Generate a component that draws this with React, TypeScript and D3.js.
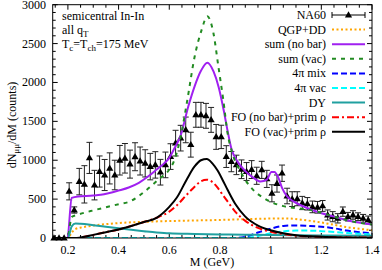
import React from 'react';
import * as d3 from 'd3';

const W = 382;
const H = 270;
const P = { left: 52.7, right: 372, top: 4.7, bottom: 238 };

const xMajor = [0.2, 0.4, 0.6, 0.8, 1.0, 1.2, 1.4];
const xLabels = ['0.2', '0.4', '0.6', '0.8', '1', '1.2', '1.4'];
const xMinor = [0.15, 0.25, 0.3, 0.35, 0.45, 0.5, 0.55, 0.65, 0.7, 0.75, 0.85, 0.9, 0.95, 1.05, 1.1, 1.15, 1.25, 1.3, 1.35];
const yMajor = [0, 500, 1000, 1500, 2000, 2500, 3000];
const yMinorStep = 100;

const na60Mass = [0.145, 0.165, 0.185, 0.205, 0.225, 0.245, 0.265, 0.285, 0.305, 0.325, 0.345, 0.365, 0.385, 0.405, 0.425, 0.445, 0.465, 0.485, 0.505, 0.525, 0.545, 0.565, 0.585, 0.605, 0.625, 0.645, 0.665, 0.685, 0.705, 0.725, 0.745, 0.765, 0.785, 0.805, 0.825, 0.845, 0.865, 0.885, 0.905, 0.925, 0.945, 0.965, 0.985, 1.005, 1.025, 1.045, 1.065, 1.085, 1.105, 1.125, 1.145, 1.165, 1.185, 1.205, 1.225, 1.245, 1.265, 1.285, 1.305, 1.325, 1.345, 1.365, 1.385];
const na60Counts = [0, 0, 0, 600, 360, 725, 690, 1030, 680, 855, 810, 895, 810, 1000, 1025, 950, 1045, 990, 960, 918, 940, 846, 940, 1047, 1220, 1284, 1390, 1200, 1584, 1584, 1571, 1519, 1300, 1300, 1047, 982, 940, 884, 855, 880, 800, 876, 760, 575, 700, 833, 540, 500, 505, 450, 440, 400, 395, 412, 296, 274, 253, 339, 274, 296, 274, 253, 232];
const na60Err = [0, 0, 0, 110, 40, 170, 240, 200, 190, 200, 200, 200, 190, 190, 190, 180, 180, 180, 175, 170, 170, 165, 165, 165, 165, 165, 165, 160, 160, 160, 160, 160, 160, 150, 140, 130, 125, 120, 115, 115, 110, 110, 110, 110, 110, 105, 100, 95, 90, 85, 80, 75, 75, 70, 65, 65, 60, 60, 55, 55, 50, 50, 50];

type Pt = [number, number];
const qgpDD: Pt[] = [[0.14, 0], [0.2, 0], [0.215, 70], [0.23, 115], [0.26, 140], [0.3, 160], [0.35, 178], [0.4, 192], [0.5, 208], [0.6, 218], [0.7, 225], [0.8, 232], [0.9, 242], [1.0, 250], [1.06, 252], [1.12, 235], [1.18, 210], [1.25, 170], [1.3, 140], [1.35, 118], [1.4, 100]];
const sumNoBar: Pt[] = [[0.14, 0], [0.198, 0], [0.215, 515], [0.24, 535], [0.3, 545], [0.33, 555], [0.36, 575], [0.4, 610], [0.44, 650], [0.48, 710], [0.52, 800], [0.55, 880], [0.58, 960], [0.6, 1030], [0.62, 1150], [0.645, 1320], [0.675, 1690], [0.7, 1950], [0.725, 2150], [0.75, 2255], [0.775, 2140], [0.795, 1940], [0.815, 1640], [0.83, 1380], [0.845, 1150], [0.87, 980], [0.9, 860], [0.93, 780], [0.96, 725], [0.985, 750], [1.003, 850], [1.015, 850], [1.03, 780], [1.045, 645], [1.065, 535], [1.09, 470], [1.13, 405], [1.18, 340], [1.25, 275], [1.31, 222], [1.4, 172]];
const sumVac: Pt[] = [[0.14, 0], [0.198, 0], [0.215, 270], [0.24, 300], [0.3, 355], [0.35, 395], [0.4, 435], [0.445, 470], [0.5, 590], [0.56, 760], [0.6, 880], [0.62, 1000], [0.645, 1300], [0.67, 1750], [0.7, 2330], [0.728, 2680], [0.75, 2850], [0.774, 2640], [0.794, 2200], [0.813, 1780], [0.83, 1350], [0.85, 1080], [0.88, 860], [0.91, 700], [0.94, 590], [0.97, 520], [1.0, 465], [1.05, 410], [1.1, 385], [1.15, 365], [1.2, 325], [1.25, 275], [1.31, 222], [1.4, 172]];
const mix4pi: Pt[] = [[0.2, 0], [0.85, 0], [0.9, 15], [0.95, 70], [1.0, 120], [1.05, 155], [1.1, 162], [1.15, 155], [1.2, 145], [1.25, 125], [1.3, 95], [1.35, 75], [1.4, 60]];
const vac4pi: Pt[] = [[0.2, 0], [0.9, 0], [0.95, 25], [1.0, 60], [1.05, 85], [1.1, 95], [1.15, 95], [1.2, 88], [1.25, 78], [1.3, 65], [1.35, 55], [1.4, 45]];
const drellYan: Pt[] = [[0.14, 0], [0.2, 0], [0.215, 150], [0.23, 185], [0.25, 182], [0.3, 165], [0.35, 145], [0.4, 125], [0.45, 105], [0.5, 88], [0.55, 72], [0.6, 60], [0.7, 52], [0.8, 46], [0.9, 42], [1.0, 38], [1.2, 33], [1.4, 30]];
const foNoBar: Pt[] = [[0.14, 0], [0.235, 0], [0.27, 20], [0.3, 40], [0.35, 75], [0.4, 110], [0.45, 155], [0.5, 205], [0.55, 260], [0.6, 340], [0.63, 420], [0.67, 560], [0.7, 660], [0.725, 730], [0.748, 750], [0.77, 720], [0.79, 650], [0.81, 560], [0.83, 470], [0.86, 340], [0.9, 220], [0.95, 130], [1.0, 80], [1.05, 50], [1.1, 30], [1.2, 15], [1.3, 8], [1.4, 5]];
const foVac: Pt[] = [[0.14, 0], [0.235, 0], [0.27, 20], [0.3, 40], [0.35, 75], [0.4, 110], [0.45, 155], [0.5, 205], [0.55, 260], [0.6, 400], [0.63, 520], [0.67, 760], [0.7, 920], [0.725, 1000], [0.748, 1017], [0.77, 960], [0.79, 870], [0.81, 750], [0.83, 620], [0.86, 440], [0.9, 275], [0.95, 160], [1.0, 100], [1.05, 60], [1.1, 35], [1.2, 15], [1.3, 6], [1.4, 2]];

const series = [
  { name: 'QGP+DD', data: qgpDD, color: '#ffa500', dash: '2,2.5' },
  { name: 'sum (no bar)', data: sumNoBar, color: '#a020f0', dash: '' },
  { name: 'sum (vac)', data: sumVac, color: '#228b22', dash: '4,5' },
  { name: '4\u03c0 mix', data: mix4pi, color: '#0000ff', dash: '6,3' },
  { name: '4\u03c0 vac', data: vac4pi, color: '#00ffff', dash: '6,3' },
  { name: 'DY', data: drellYan, color: '#20a0a0', dash: '' },
  { name: 'FO (no bar)+prim \u03c1', data: foNoBar, color: '#ff0000', dash: '7,3,2,3' },
  { name: 'FO (vac)+prim \u03c1', data: foVac, color: '#000000', dash: '' },
];

const FONT = '"Liberation Serif", "Times New Roman", serif';

export default function App() {
  const x = d3.scaleLinear().domain([0.14, 1.4]).range([P.left, P.right]);
  const y = d3.scaleLinear().domain([0, 3000]).range([P.bottom, P.top]);
  const line = d3.line<Pt>().x(d => x(d[0])).y(d => y(d[1])).curve(d3.curveMonotoneX);
  const yMinor = d3.range(0, 3001, yMinorStep);

  const legendX1 = 332;
  const legendX2 = 365;
  const legendTextX = 326;
  const legendY0 = 15;
  const legendDy = 14.6;

  const tri = (cx: number, cy: number) => `M${cx},${cy - 3.8}L${cx + 3.6},${cy + 2.4}L${cx - 3.6},${cy + 2.4}Z`;

  return (
    <svg width={W} height={H} style={{ position: 'absolute', left: 0, top: 0, background: '#fff' }} fontFamily={FONT}>
      <rect x={0} y={0} width={W} height={H} fill="#fff" />
      <defs>
        <clipPath id="plotclip">
          <rect x={P.left} y={P.top} width={P.right - P.left} height={P.bottom - P.top} />
        </clipPath>
      </defs>
      {/* ticks */}
      <g stroke="#000" strokeWidth={1}>
        {xMajor.map(v => (
          <g key={'xM' + v}>
            <line x1={x(v)} x2={x(v)} y1={P.bottom} y2={P.bottom - 5} />
            <line x1={x(v)} x2={x(v)} y1={P.top} y2={P.top + 5} />
          </g>
        ))}
        {xMinor.map(v => (
          <g key={'xm' + v}>
            <line x1={x(v)} x2={x(v)} y1={P.bottom} y2={P.bottom - 3} />
            <line x1={x(v)} x2={x(v)} y1={P.top} y2={P.top + 3} />
          </g>
        ))}
        {yMinor.map(v => {
          const major = v % 500 === 0;
          const len = major ? 5 : 3;
          return (
            <g key={'y' + v}>
              <line x1={P.left} x2={P.left + len} y1={y(v)} y2={y(v)} />
              <line x1={P.right} x2={P.right - len} y1={y(v)} y2={y(v)} />
            </g>
          );
        })}
      </g>
      {/* tick labels */}
      <g fontSize={12} fill="#000">
        {xMajor.map((v, i) => (
          <text key={'xl' + v} x={x(v)} y={254} textAnchor="middle">{xLabels[i]}</text>
        ))}
        {yMajor.map(v => (
          <text key={'yl' + v} x={46} y={y(v) + 4} textAnchor="end">{v}</text>
        ))}
      </g>
      {/* axis titles */}
      <text x={212} y={266} fontSize={12} textAnchor="middle">M (GeV)</text>
      <text transform={`translate(16,125) rotate(-90)`} fontSize={12} textAnchor="middle">
        dN<tspan fontSize={9} dy={3}>{'\u03bc\u03bc'}</tspan><tspan dy={-3}>/dM (counts)</tspan>
      </text>
      {/* annotations */}
      <g fontSize={12}>
        <text x={62} y={20}>semicentral In-In</text>
        <text x={62} y={34}>all q<tspan fontSize={9} dy={3}>T</tspan></text>
        <text x={62} y={48}>T<tspan fontSize={9} dy={3}>c</tspan><tspan dy={-3}>=T</tspan><tspan fontSize={9} dy={3}>ch</tspan><tspan dy={-3}>=175 MeV</tspan></text>
      </g>
      {/* data points */}
      <g>
        {na60Mass.map((m, i) => {
          const cx = x(m);
          const cy = y(na60Counts[i]);
          const e = na60Err[i];
          return (
            <g key={'p' + i}>
              {e > 0 && (
                <g stroke="#222" strokeWidth={1}>
                  <line x1={cx} x2={cx} y1={y(na60Counts[i] - e)} y2={y(na60Counts[i] + e)} />
                  <line x1={cx - 3} x2={cx + 3} y1={y(na60Counts[i] - e)} y2={y(na60Counts[i] - e)} />
                  <line x1={cx - 3} x2={cx + 3} y1={y(na60Counts[i] + e)} y2={y(na60Counts[i] + e)} />
                </g>
              )}
              <path d={tri(cx, cy)} fill="#000" />
            </g>
          );
        })}
      </g>
      <g clipPath="url(#plotclip)">
        {series.map(s => (
          <path key={s.name} d={line(s.data) || ''} fill="none" stroke={s.color} strokeWidth={2} strokeDasharray={s.dash || undefined} />
        ))}
      </g>
      {/* frame */}
      <rect x={P.left} y={P.top} width={P.right - P.left} height={P.bottom - P.top} fill="none" stroke="#000" strokeWidth={1} />
      {/* legend */}
      <g fontSize={12}>
        <text x={legendTextX} y={legendY0 + 4} textAnchor="end">NA60</text>
        <g stroke="#000" strokeWidth={1}>
          <line x1={legendX1} x2={legendX2} y1={legendY0} y2={legendY0} />
          <line x1={legendX1} x2={legendX1} y1={legendY0 - 3} y2={legendY0 + 3} />
          <line x1={legendX2} x2={legendX2} y1={legendY0 - 3} y2={legendY0 + 3} />
        </g>
        <path d={tri((legendX1 + legendX2) / 2, legendY0)} fill="#000" />
        {series.map((s, i) => {
          const ly = legendY0 + legendDy * (i + 1);
          return (
            <g key={'lg' + s.name}>
              <text x={legendTextX} y={ly + 4} textAnchor="end">{s.name}</text>
              <line x1={legendX1} x2={legendX2} y1={ly} y2={ly} stroke={s.color} strokeWidth={2} strokeDasharray={s.dash || undefined} />
            </g>
          );
        })}
      </g>
    </svg>
  );
}
